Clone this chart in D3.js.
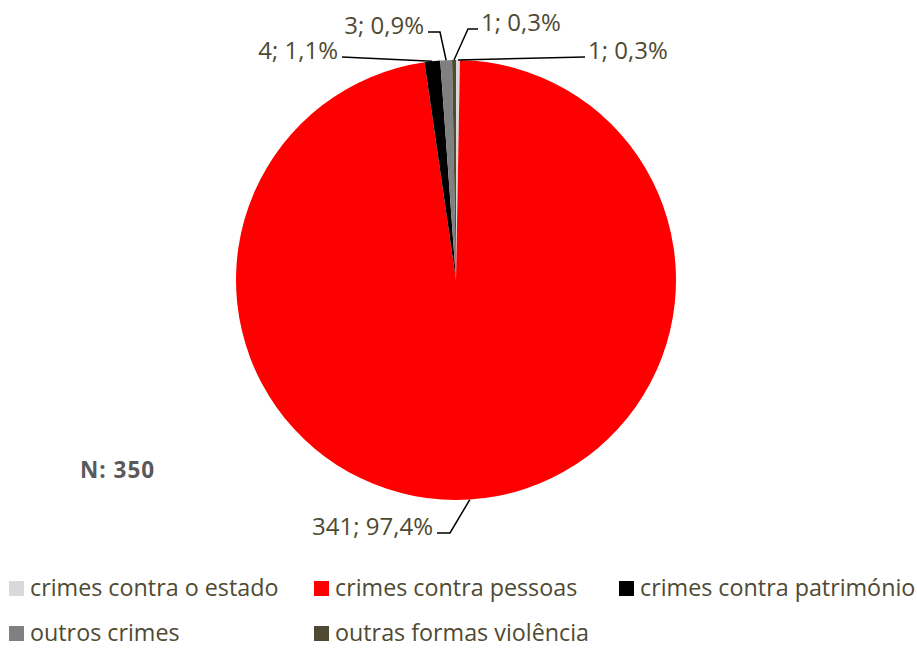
<!DOCTYPE html>
<html>
<head>
<meta charset="utf-8">
<script src="https://cdn.jsdelivr.net/npm/d3@7"></script>
<style>
  body { margin: 0; background: #fff; }
  svg { display: block; font-family: "Open Sans", Lato, sans-serif; }
</style>
</head>
<body>
<svg width="917" height="648"></svg>
<script>
const categories = ["crimes contra o estado", "crimes contra pessoas", "crimes contra património", "outros crimes", "outras formas violência"];
const values = [1, 341, 4, 3, 1];
const colors = ["#d9d9d9", "#ff0000", "#000000", "#808080", "#4f4a33"];
const total = 350;

const svg = d3.select("svg");
const cx = 456, cy = 280, r = 220;
const textColor = "#4f4a33";

const pie = d3.pie().sort(null).value(d => d.value);
const arcs = pie(categories.map((c, i) => ({ name: c, value: values[i], color: colors[i] })));
const arc = d3.arc().innerRadius(0).outerRadius(r);

const g = svg.append("g").attr("transform", `translate(${cx},${cy})`);

g.selectAll("path")
  .data(arcs)
  .enter().append("path")
  .attr("d", arc)
  .attr("fill", d => d.data.color);

// label layout: end of leader line relative to center, elbow and alignment
const labelLayout = [
  { tx: 129, ty: -223, anchor: "start", elbow: null },             // estado
  { tx: -19, ty: 253, anchor: "end", elbow: [-6, 253] },             // pessoas
  { tx: -114, ty: -223, anchor: "end", elbow: null },               // patrimonio
  { tx: -28, ty: -248, anchor: "end", elbow: [-16, -248] },         // outros
  { tx: 22, ty: -251, anchor: "start", elbow: [12, -251] }          // outras formas
];

const fmt = v => d3.format(".1f")(v / total * 100).replace(".", ",") + "%";

arcs.forEach((d, i) => {
  const L = labelLayout[i];
  const mid = (d.startAngle + d.endAngle) / 2;
  const px = Math.sin(mid) * r, py = -Math.cos(mid) * r;
  const pts = [[px, py]];
  if (L.elbow) pts.push(L.elbow);
  pts.push([L.tx, L.ty]);
  g.append("path")
    .attr("d", d3.line()(pts))
    .attr("fill", "none")
    .attr("stroke", "#000")
    .attr("stroke-width", 1.5);
  g.append("text")
    .attr("x", L.tx + (L.anchor === "end" ? -4 : 3))
    .attr("y", L.ty + 2)
    .attr("text-anchor", L.anchor)
    .attr("font-size", 24)
    .attr("fill", textColor)
    .text(`${d.data.value}; ${fmt(d.data.value)}`);
});

svg.append("text")
  .attr("x", 80)
  .attr("y", 478)
  .attr("font-size", 22.5)
  .attr("font-weight", "bold")
  .attr("letter-spacing", 1)
  .attr("fill", "#595959")
  .text("N: 350");

// legend
const legendPos = [[9, 596], [314, 596], [619, 596], [9, 641], [314, 641]];
const legend = svg.append("g").selectAll("g")
  .data(categories)
  .enter().append("g")
  .attr("transform", (d, i) => `translate(${legendPos[i][0]},${legendPos[i][1]})`);

legend.append("rect")
  .attr("x", 0).attr("y", -15)
  .attr("width", 15).attr("height", 15)
  .attr("fill", (d, i) => colors[i]);

legend.append("text")
  .attr("x", 21)
  .attr("y", 0)
  .attr("font-size", 23.3)
  .attr("fill", textColor)
  .text(d => d);
</script>
</body>
</html>
